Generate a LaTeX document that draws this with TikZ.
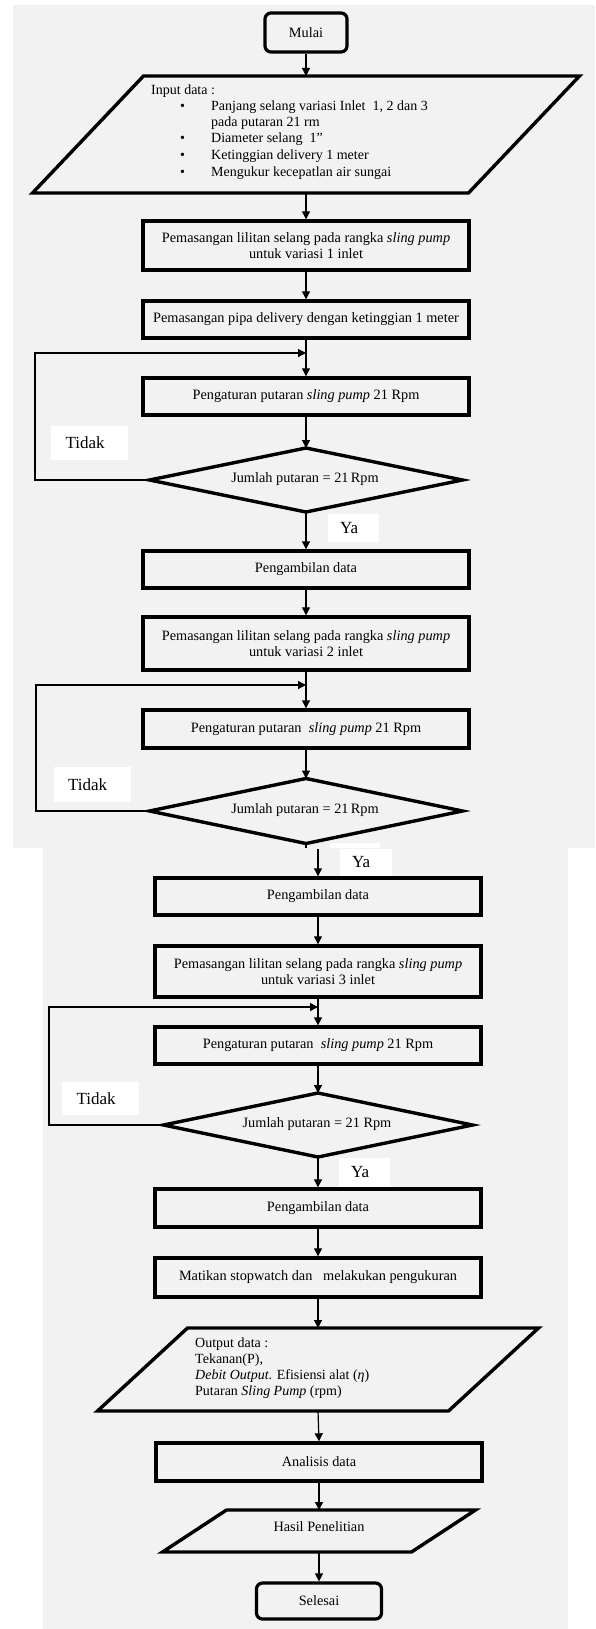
\documentclass[tikz,border=0pt]{standalone}
\usepackage{fontspec}
\setmainfont{Liberation Serif}
\usetikzlibrary{arrows.meta}
\definecolor{bgc}{HTML}{F2F2F2}
\begin{document}
\begin{tikzpicture}[x=1pt,y=-1pt,
  txt/.style={font=\fontsize{14.3}{16.5}\selectfont},
  small/.style={font=\fontsize{14}{16}\selectfont, inner sep=0pt},
  box/.style={draw, line width=3.4pt, minimum width=326pt, inner sep=0pt, align=center, txt},
  term/.style={draw, line width=3.2pt, rounded corners=6pt, inner sep=0pt, align=center, txt},
  frame/.style={inner sep=0pt, outer sep=0pt},
  shapeline/.style={line width=3.4pt, line join=miter},
  conn/.style={line width=1.2pt},
  arr/.style={conn, -{Triangle[length=8pt,width=8pt]}},
  lab/.style={fill=white, align=left, font=\fontsize{17}{19}\selectfont}
]
\useasboundingbox (0,0) rectangle (595,1629);
\fill[white] (0,0) rectangle (595,1629);
\fill[bgc] (13,5) rectangle (595,848);
\fill[bgc] (43,848) rectangle (568,1629);

% ---------- part 1 ----------
\node[term, minimum width=82pt, minimum height=39pt] (mulai) at (306,32.5) {Mulai};

\node[frame, minimum width=547pt, minimum height=117pt] (inp) at (306,134.5) {};
\draw[shapeline] ([xshift=111pt]inp.north west) -- (inp.north east) -- ([xshift=-111pt]inp.south east) -- (inp.south west) -- cycle;
\node[small, anchor=west] (in0) at (151,91) {Input data :};
\node[small, anchor=west] (inb1) at (180,107) {\textbullet};
\node[small, anchor=west] (in1) at (211,107) {Panjang selang variasi Inlet \ 1, 2 dan 3};
\node[small, anchor=west] (in1b) at (211,123) {pada putaran 21 rm};
\node[small, anchor=west] (inb2) at (180,139) {\textbullet};
\node[small, anchor=west] (in2) at (211,139) {Diameter selang \ 1''};
\node[small, anchor=west] (inb3) at (180,156) {\textbullet};
\node[small, anchor=west] (in3) at (211,156) {Ketinggian delivery 1 meter};
\node[small, anchor=west] (inb4) at (180,173) {\textbullet};
\node[small, anchor=west] (in4) at (211,173) {Mengukur kecepatlan air sungai};

\node[box, minimum height=49pt] (b1) at (306,245.5) {Pemasangan lilitan selang pada rangka \textit{sling pump}\\untuk variasi 1 inlet};
\node[box, minimum height=37pt] (b2) at (306,319.5) {Pemasangan pipa delivery dengan ketinggian 1 meter};
\node[box, minimum height=37pt] (b3) at (306,396.5) {Pengaturan putaran \textit{sling pump} 21 Rpm};
\node[frame, minimum width=313pt, minimum height=64pt] (d1) at (306,480) {};
\draw[shapeline] (d1.west) -- (d1.north) -- (d1.east) -- (d1.south) -- cycle;
\node[txt] (d1t) at (305,479) {Jumlah putaran = 21\,Rpm};
\node[lab, minimum width=77pt, minimum height=34pt, text width=48pt, inner xsep=14.5pt] (tid1) at (89.5,443) {Tidak};
\node[lab, minimum width=51pt, minimum height=28pt, text width=27pt, inner xsep=12pt] (ya1) at (353.5,528) {Ya};

\node[box, minimum height=37pt] (b4) at (306,569.5) {Pengambilan data};
\node[box, minimum height=53pt] (b5) at (306,643.5) {Pemasangan lilitan selang pada rangka \textit{sling pump}\\untuk variasi 2 inlet};
\node[box, minimum height=38pt] (b6) at (306,729) {Pengaturan putaran \ \textit{sling pump} 21 Rpm};
\node[frame, minimum width=313pt, minimum height=65pt] (d2) at (306,811) {};
\draw[shapeline] (d2.west) -- (d2.north) -- (d2.east) -- (d2.south) -- cycle;
\node[txt] (d2t) at (305,810) {Jumlah putaran = 21\,Rpm};
\node[lab, minimum width=77pt, minimum height=35pt, text width=48pt, inner xsep=14.5pt] (tid2) at (92,784.5) {Tidak};
\fill[white] (330,843) rectangle (380,848);

\coordinate (l1) at (35,353);
\coordinate (l2) at (36,685);
\coordinate (brkA) at (306,848);

\draw[arr] (mulai.south) -- (inp.north);
\draw[arr] (inp.south) -- (b1.north);
\draw[arr] (b1.south) -- (b2.north);
\draw[arr] (b2.south) -- (b3.north);
\draw[arr] (b3.south) -- (d1.north);
\draw[arr] (d1.west) -| (l1) -- (l1 -| b3.north);
\draw[arr] (d1.south) -- (b4.north);
\draw[arr] (b4.south) -- (b5.north);
\draw[arr] (b5.south) -- (b6.north);
\draw[arr] (b6.south) -- (d2.north);
\draw[arr] (d2.west) -| (l2) -- (l2 -| b6.north);
\draw[conn] (d2.south) -- (brkA);

% ---------- part 2 ----------
\node[lab, minimum width=52pt, minimum height=27pt, text width=28pt, inner xsep=12pt] (ya2) at (366,862.5) {Ya};
\coordinate (brkB) at (318,849);
\node[box, minimum height=37pt] (b7) at (318,896.5) {Pengambilan data};
\node[box, minimum height=51pt] (b8) at (318,971.5) {Pemasangan lilitan selang pada rangka \textit{sling pump}\\untuk variasi 3 inlet};
\node[box, minimum height=37pt] (b9) at (318,1045.5) {Pengaturan putaran \ \textit{sling pump} 21 Rpm};
\node[frame, minimum width=309pt, minimum height=64pt] (d3) at (318,1125) {};
\draw[shapeline] (d3.west) -- (d3.north) -- (d3.east) -- (d3.south) -- cycle;
\node[txt] (d3t) at (317,1124) {Jumlah putaran = 21 Rpm};
\node[lab, minimum width=77pt, minimum height=33pt, text width=48pt, inner xsep=14.5pt] (tid3) at (100.5,1098.5) {Tidak};
\node[lab, minimum width=51pt, minimum height=29pt, text width=27pt, inner xsep=12pt] (ya3) at (364.5,1172.5) {Ya};
\node[box, minimum height=38pt] (b10) at (318,1208) {Pengambilan data};
\node[box, minimum height=39pt] (b11) at (318,1277.5) {Matikan stopwatch dan \ \ melakukan pengukuran};

\node[frame, minimum width=441pt, minimum height=83pt] (out) at (318,1369.5) {};
\draw[shapeline] ([xshift=90pt]out.north west) -- (out.north east) -- ([xshift=-90pt]out.south east) -- (out.south west) -- cycle;
\node[small, anchor=west] (o0) at (195,1344) {Output data :};
\node[small, anchor=west] (o1) at (195,1360) {Tekanan(P),};
\node[small, anchor=west] (o2) at (195,1376) {\textit{Debit Output}. Efisiensi alat (\textit{η})};
\node[small, anchor=west] (o3) at (195,1392) {Putaran \textit{Sling Pump} (rpm)};

\node[box, minimum height=38pt] (b12) at (319,1462) {Analisis data};
\node[frame, minimum width=313pt, minimum height=42pt] (has) at (319,1531) {};
\draw[shapeline] ([xshift=64pt]has.north west) -- (has.north east) -- ([xshift=-64pt]has.south east) -- (has.south west) -- cycle;
\node[txt] (hast) at (319,1527) {Hasil Penelitian};
\node[term, minimum width=125pt, minimum height=36pt] (selesai) at (319,1601) {Selesai};

\coordinate (l3) at (49,1007);
\draw[arr] (brkB) -- (b7.north);
\draw[arr] (b7.south) -- (b8.north);
\draw[arr] (b8.south) -- (b9.north);
\draw[arr] (b9.south) -- (d3.north);
\draw[arr] (d3.west) -| (l3) -- (l3 -| b9.north);
\draw[arr] (d3.south) -- (b10.north);
\draw[arr] (b10.south) -- (b11.north);
\draw[arr] (b11.south) -- (out.north);
\draw[arr] (out.south) -- (b12.north);
\draw[arr] (b12.south) -- (has.north);
\draw[arr] (has.south) -- (selesai.north);
\end{tikzpicture}
\end{document}
